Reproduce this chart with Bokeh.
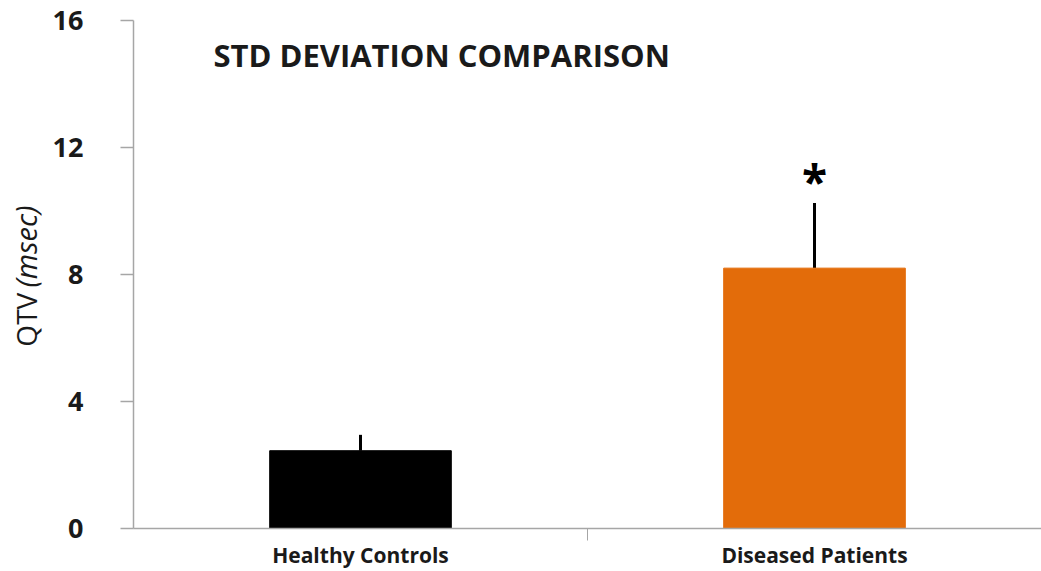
import math
from bokeh.plotting import figure
from bokeh.layouts import row
from bokeh.models import Range1d, LinearAxis, FixedTicker, Label, ColumnDataSource
from bokeh.core.properties import value
from bokeh.embed import file_html
from bokeh.resources import INLINE

# QT variability (standard deviation) per group, in msec
groups = ["Healthy Controls", "Diseased Patients"]
means = [2.45, 8.2]
sds = [0.5, 2.05]
colors = ["#000000", "#E36C0A"]
y_ticks = [0, 4, 8, 12, 16]
significance = ["", "*"]

FONT = "Open Sans"
AXIS_GRAY = "#a6a6a6"
TEXT = "#1a1a1a"
W, H = 1041, 571
TITLE_W = 45          # strip on the left holding the y axis title
FRAME_LEFT = 133      # x of the value axis line

# each group occupies one unit slot; bars sit in the middle of their slot
slot = [i + 0.5 for i in range(len(groups))]

src = ColumnDataSource(dict(
    x=slot, group=groups, mean=means, sd=sds, color=colors,
    upper=[m + s for m, s in zip(means, sds)],
    star=significance,
    star_y=[m + s + 0.7 for m, s in zip(means, sds)],
))

p = figure(frame_width=W - FRAME_LEFT, frame_height=508,
           x_range=Range1d(0, len(groups)),
           y_range=Range1d(0, 16), output_backend="svg",
           toolbar_location=None, x_axis_location=None, y_axis_location=None,
           min_border_left=FRAME_LEFT - TITLE_W, min_border_right=0,
           min_border_top=20, min_border_bottom=40)
p.outline_line_color = None
p.xgrid.visible = False
p.ygrid.visible = False

# y axis
yax = LinearAxis(ticker=FixedTicker(ticks=y_ticks))
yax.axis_line_color = AXIS_GRAY
yax.axis_line_width = 1.5
yax.major_tick_line_color = AXIS_GRAY
yax.major_tick_line_width = 1.5
yax.major_tick_out = 13
yax.major_tick_in = 0
yax.minor_tick_line_color = None
yax.major_label_text_font = FONT
yax.major_label_text_font_style = "bold"
yax.major_label_text_font_size = "27px"
yax.major_label_text_color = TEXT
yax.major_label_standoff = 37
p.add_layout(yax, "left")

# x axis line with divider ticks between the groups
dividers = list(range(1, len(groups)))
dax = LinearAxis(ticker=FixedTicker(ticks=dividers),
                 major_label_overrides={d: "" for d in dividers})
dax.axis_line_color = AXIS_GRAY
dax.axis_line_width = 1.5
dax.major_tick_line_color = AXIS_GRAY
dax.major_tick_out = 12
dax.major_tick_in = 0
dax.minor_tick_line_color = None
dax.major_label_text_font_size = "1px"
dax.major_label_standoff = 0
p.add_layout(dax, "below")

# group labels
cax = LinearAxis(ticker=FixedTicker(ticks=slot),
                 major_label_overrides={s: g for s, g in zip(slot, groups)})
cax.axis_line_color = None
cax.major_tick_line_color = None
cax.minor_tick_line_color = None
cax.major_label_text_font = FONT
cax.major_label_text_font_style = "bold"
cax.major_label_text_font_size = "21px"
cax.major_label_text_color = TEXT
cax.major_label_standoff = -6
p.add_layout(cax, "below")

# error bars (upper half) then bars on top
p.segment(x0="x", y0="mean", x1="x", y1="upper", source=src,
          line_color="black", line_width=3)
p.vbar(x="x", top="mean", width=0.4, source=src,
       fill_color="color", line_color="color")

# significance marker
p.text(x="x", y="star_y", text="star", source=src,
       text_font=value(FONT), text_font_style="bold", text_font_size="46px",
       text_align="center", text_baseline="middle", text_color="black")

# title inside the plot area
p.add_layout(Label(x=0.176, y=14.9, text="STD DEVIATION COMPARISON",
                   text_font=FONT, text_font_style="bold",
                   text_font_size="31px", text_color=TEXT,
                   text_baseline="middle"))

# y axis title: "QTV" upright, "(msec)" italic, read bottom to top
t = figure(width=TITLE_W, height=H,
           x_range=Range1d(0, TITLE_W), y_range=Range1d(0, H),
           output_backend="svg", toolbar_location=None,
           x_axis_location=None, y_axis_location=None, min_border=0)
t.outline_line_color = None
t.xgrid.visible = False
t.ygrid.visible = False
t.text(x=[25], y=[H - 306], text=["QTV"], angle=math.pi / 2,
       text_font=value(FONT), text_font_size="28px", text_color=TEXT,
       text_align="right", text_baseline="middle")
t.text(x=[25], y=[H - 208], text=["(msec)"], angle=math.pi / 2,
       text_font=value(FONT), text_font_style="italic",
       text_font_size="29px", text_color=TEXT,
       text_align="right", text_baseline="middle")

open("out.html", "w").write(file_html(row(t, p), INLINE))
